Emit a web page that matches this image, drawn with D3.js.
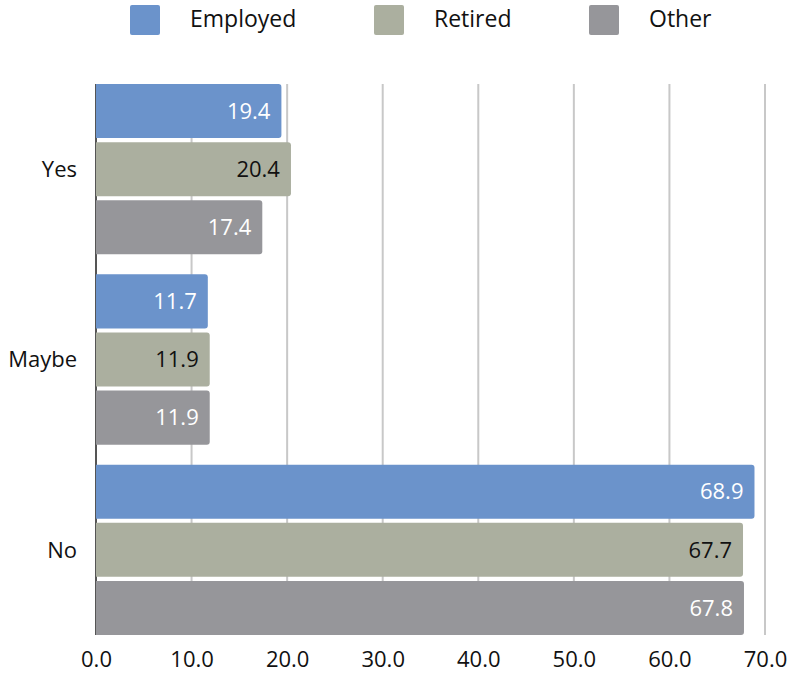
<!DOCTYPE html>
<html lang="en">
<head>
    <meta charset="utf-8">
    <title>Grouped bars</title>
    <style>
        body { margin: 0; background: #fff; }
        svg text { font-family: "Open Sans", sans-serif; }
    </style>
</head>
<body>
    <svg id="chart" width="791" height="677"></svg>
    <script src="https://cdn.jsdelivr.net/npm/d3@7"></script>
    <script>
        var categories = ["Yes", "Maybe", "No"];
        var seriesNames = ["Employed", "Retired", "Other"];
        var employed = [19.4, 11.7, 68.9];
        var retired = [20.4, 11.9, 67.7];
        var other = [17.4, 11.9, 67.8];
        var ticks = [0, 10, 20, 30, 40, 50, 60, 70];

        var colors = ["#6b93cb", "#abaf9f", "#96969a"];
        var labelColors = ["#fff", "#111", "#fff"];

        var series = [employed, retired, other];
        var plotLeft = 96, plotRight = 765, plotTop = 84, plotBottom = 635;

        var svg = d3.select("#chart");

        var x = d3.scaleLinear().domain([0, 70]).range([plotLeft, plotRight]);
        var y0 = d3.scaleBand().domain(categories).range([plotTop, plotBottom])
            .paddingInner(0.105).paddingOuter(0);
        var y1 = d3.scaleBand().domain(seriesNames).range([0, y0.bandwidth()])
            .paddingInner(0.07).paddingOuter(0);

        // grid lines
        svg.append("g").selectAll("line")
            .data(ticks.slice(1))
            .enter()
            .append("line")
            .attr("x1", function(d) { return x(d); })
            .attr("x2", function(d) { return x(d); })
            .attr("y1", plotTop)
            .attr("y2", plotBottom)
            .attr("stroke", "#c8c8c8")
            .attr("stroke-width", 2);

        // axis line
        svg.append("line")
            .attr("x1", x(0)).attr("x2", x(0))
            .attr("y1", plotTop).attr("y2", plotBottom)
            .attr("stroke", "#555")
            .attr("stroke-width", 2);

        // x tick labels
        var xAxis = svg.append("g")
            .attr("transform", "translate(0," + plotBottom + ")")
            .call(d3.axisBottom(x).tickValues(ticks).tickFormat(d3.format(".1f")).tickSize(0).tickPadding(16));
        xAxis.select(".domain").remove();
        xAxis.selectAll("text")
            .attr("font-size", "22px")
            .attr("fill", "#111")
            .style("font-family", "'Open Sans', sans-serif");

        // category labels
        svg.append("g").selectAll("text")
            .data(categories)
            .enter()
            .append("text")
            .attr("x", 77)
            .attr("y", function(d) { return y0(d) + y0.bandwidth() / 2; })
            .attr("dy", "0.35em")
            .attr("text-anchor", "end")
            .attr("font-size", "22px")
            .attr("fill", "#111")
            .text(function(d) { return d; });

        // bars
        var rows = [];
        categories.forEach(function(c, i) {
            seriesNames.forEach(function(s, j) {
                rows.push({ cat: c, name: s, idx: j, value: series[j][i] });
            });
        });

        function barPath(d) {
            var x0 = x(0), x1v = x(d.value), yt = y0(d.cat) + y1(d.name), h = y1.bandwidth(), r = 3;
            return "M" + x0 + "," + yt +
                "H" + (x1v - r) +
                "Q" + x1v + "," + yt + " " + x1v + "," + (yt + r) +
                "V" + (yt + h - r) +
                "Q" + x1v + "," + (yt + h) + " " + (x1v - r) + "," + (yt + h) +
                "H" + x0 + "Z";
        }

        svg.append("g").selectAll("path")
            .data(rows)
            .enter()
            .append("path")
            .attr("d", barPath)
            .attr("fill", function(d) { return colors[d.idx]; });

        svg.append("g").selectAll("text")
            .data(rows)
            .enter()
            .append("text")
            .attr("x", function(d) { return x(d.value) - 11; })
            .attr("y", function(d) { return y0(d.cat) + y1(d.name) + y1.bandwidth() / 2; })
            .attr("dy", "0.35em")
            .attr("text-anchor", "end")
            .attr("font-size", "22px")
            .attr("fill", function(d) { return labelColors[d.idx]; })
            .text(function(d) { return d.value.toFixed(1); });

        // legend
        var legendX = [130, 374, 589];
        var legend = svg.append("g").selectAll("g")
            .data(seriesNames)
            .enter()
            .append("g")
            .attr("transform", function(d, i) { return "translate(" + legendX[i] + ",5)"; });
        legend.append("rect")
            .attr("width", 30).attr("height", 30)
            .attr("rx", 2)
            .attr("fill", function(d, i) { return colors[i]; });
        legend.append("text")
            .attr("x", 60)
            .attr("y", 22)
            .attr("font-size", "23px")
            .attr("fill", "#111")
            .text(function(d) { return d; });
    </script>
</body>
</html>
